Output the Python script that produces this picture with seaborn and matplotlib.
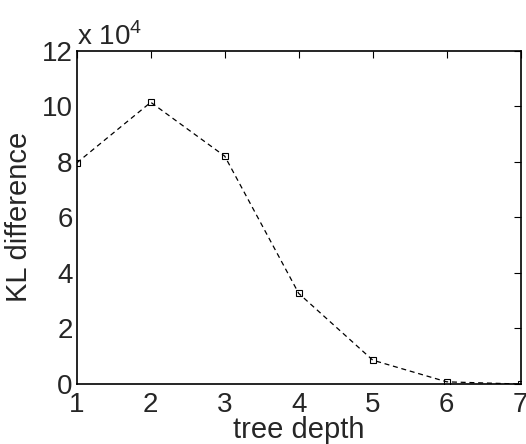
import numpy as np
import pandas as pd
import matplotlib
matplotlib.use("Agg")
import matplotlib.pyplot as plt
import seaborn as sns

sns.set_style("white")
plt.rcParams["font.family"] = ["Liberation Sans", "DejaVu Sans"]
plt.rcParams["mathtext.fontset"] = "custom"
plt.rcParams["mathtext.rm"] = "Liberation Sans"

tree_depth = [1, 2, 3, 4, 5, 6, 7]
kl_difference = [79600, 101400, 82000, 32600, 8600, 800, 0]
y_ticks = [0, 2, 4, 6, 8, 10, 12]

df = pd.DataFrame({"depth": tree_depth, "kl": np.array(kl_difference) / 1e4})

fig = plt.figure(figsize=(5.26, 4.44), dpi=100)
ax = fig.add_axes([0.146, 0.135, 0.844, 0.751])

sns.lineplot(data=df, x="depth", y="kl", ax=ax, color="black",
             linestyle="--", linewidth=0.9, marker="s", markersize=5,
             markerfacecolor="none", markeredgecolor="black",
             markeredgewidth=0.8, dashes=False)
ax.lines[0].set_dashes([4, 3])

ax.set_xlim(1, 7)
ax.set_ylim(0, 12)
ax.set_xticks(tree_depth)
ax.set_yticks(y_ticks)
ax.tick_params(direction="in", length=5, width=0.8, top=True, right=True,
               labelsize=20, pad=3, color="black")
ax.tick_params(axis="x", pad=6)
for s in ax.spines.values():
    s.set_linewidth(1.2)
    s.set_color("black")

ax.set_xlabel("tree depth", fontsize=21, labelpad=-2)
ax.set_ylabel("KL difference", fontsize=21, labelpad=6)
ax.text(0.0, 1.0, "x 10$^4$", transform=ax.transAxes, fontsize=20,
        ha="left", va="bottom")

fig.savefig("out.png", dpi=100)
